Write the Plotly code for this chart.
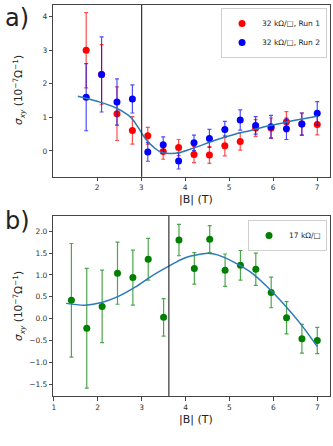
import plotly.graph_objects as go

W, H = 333, 446

# ---- panel a) : 32 kOhm/sq, two runs ----
B_A = [1.75, 2.1, 2.45, 2.8, 3.15, 3.5, 3.85, 4.2, 4.55, 4.9, 5.25, 5.6, 5.95, 6.3, 6.65, 7.0]
run1_sig = [3.0, 2.28, 1.11, 0.61, 0.45, -0.02, 0.10, -0.11, -0.12, 0.15, 0.28, 0.68, 0.68, 0.87, 0.80, 0.79]
run1_err = [1.12, 0.89, 0.80, 0.41, 0.25, 0.23, 0.24, 0.24, 0.25, 0.30, 0.26, 0.25, 0.30, 0.30, 0.33, 0.31]
run2_sig = [1.60, 2.28, 1.46, 1.55, -0.03, 0.18, -0.30, 0.24, 0.37, 0.64, 0.92, 0.76, 0.72, 0.66, 0.80, 1.12]
run2_err = [1.00, 1.12, 0.69, 0.42, 0.28, 0.24, 0.24, 0.23, 0.27, 0.24, 0.30, 0.26, 0.34, 0.32, 0.33, 0.35]
fitA_B = [1.56, 2.02, 2.43, 2.69, 2.81, 2.96, 3.11, 3.30, 3.45, 3.68, 3.90, 4.20, 4.73, 5.11, 5.49, 5.87, 6.24, 6.62, 7.0]
fitA_sig = [1.63, 1.47, 1.28, 1.08, 0.93, 0.64, 0.34, 0.09, -0.04, -0.08, -0.04, 0.09, 0.34, 0.49, 0.61, 0.74, 0.84, 0.94, 1.03]
vline_A = 3.01

# ---- panel b) : 17 kOhm/sq ----
B_B = [1.4, 1.75, 2.1, 2.45, 2.8, 3.15, 3.5, 3.85, 4.2, 4.55, 4.9, 5.25, 5.6, 5.95, 6.3, 6.65, 7.0]
sig_B = [0.42, -0.22, 0.28, 1.04, 0.94, 1.36, 0.03, 1.80, 1.15, 1.82, 1.11, 1.22, 1.13, 0.60, 0.02, -0.46, -0.50]
err_B = [1.30, 1.37, 0.83, 0.71, 0.63, 0.48, 0.43, 0.36, 0.36, 0.31, 0.37, 0.34, 0.37, 0.35, 0.37, 0.33, 0.30]
fitB_B = [1.28, 1.72, 2.09, 2.47, 2.85, 3.22, 3.60, 3.98, 4.36, 4.51, 4.73, 5.11, 5.49, 5.87, 6.24, 6.62, 7.0]
fitB_sig = [0.35, 0.31, 0.37, 0.51, 0.72, 0.97, 1.19, 1.39, 1.48, 1.50, 1.46, 1.29, 1.06, 0.72, 0.33, -0.12, -0.64]
vline_B = 3.62

RED = "#ff0000"
BLUE = "#0000ff"
GREEN = "#008000"
FIT = "#2a7ab8"
FONT = "DejaVu Sans"


def px_x(p):
    return p / W


def px_y(p):
    return 1 - p / H


def points(x, y, err, color, err_color, name, xa, ya, legend):
    return go.Scatter(
        x=x, y=y, mode="markers", name=name,
        marker=dict(color=color, size=7),
        error_y=dict(type="data", array=err, color=err_color, thickness=1.2, width=2),
        xaxis=xa, yaxis=ya, legend=legend,
    )


fig = go.Figure()
fig.add_trace(points(B_A, run1_sig, run1_err, RED, "rgba(255,0,0,0.7)",
                     "32 kΩ/□, Run 1", "x", "y", "legend"))
fig.add_trace(points(B_A, run2_sig, run2_err, BLUE, "rgba(0,0,255,0.7)",
                     "32 kΩ/□, Run 2", "x", "y", "legend"))
fig.add_trace(go.Scatter(x=fitA_B, y=fitA_sig, mode="lines", line=dict(color=FIT, width=1.5, shape="spline"),
                         showlegend=False, xaxis="x", yaxis="y"))

fig.add_trace(points(B_B, sig_B, err_B, GREEN, "rgba(0,128,0,0.7)",
                     "17 kΩ/□", "x2", "y2", "legend2"))
fig.add_trace(go.Scatter(x=fitB_B, y=fitB_sig, mode="lines", line=dict(color=FIT, width=1.5, shape="spline"),
                         showlegend=False, xaxis="x2", yaxis="y2"))

axis_style = dict(showgrid=False, zeroline=False, showline=True, mirror=True,
                  linecolor="#444", linewidth=1, ticks="outside", ticklen=3.5,
                  tickcolor="#444", tickfont=dict(size=7.5, color="#333", family=FONT))

fig.update_layout(
    width=W, height=H, autosize=False,
    margin=dict(l=0, r=0, t=0, b=0),
    paper_bgcolor="white", plot_bgcolor="white",
    font=dict(family=FONT, color="#222"),
    xaxis=dict(domain=[px_x(51.7), px_x(330)], range=[1.005, 7.29], tickvals=[2, 3, 4, 5, 6, 7],
               anchor="y", **axis_style),
    yaxis=dict(domain=[px_y(176.7), px_y(5)], range=[-0.77, 4.35], tickvals=[0, 1, 2, 3, 4],
               anchor="x", **axis_style),
    xaxis2=dict(domain=[px_x(51.7), px_x(330)], range=[0.99, 7.29], tickvals=[1, 2, 3, 4, 5, 6, 7],
                anchor="y2", **axis_style),
    yaxis2=dict(domain=[px_y(396), px_y(216)], range=[-1.77, 2.35],
                tickvals=[-1.5, -1.0, -0.5, 0.0, 0.5, 1.0, 1.5, 2.0], tickformat=".1f",
                anchor="x2", **axis_style),
    legend=dict(x=px_x(327), y=px_y(8), xanchor="right", yanchor="top",
                bgcolor="white", bordercolor="#d0d0d0", borderwidth=1,
                font=dict(size=7.5, family=FONT, color="#222"), itemwidth=30),
    legend2=dict(x=px_x(327), y=px_y(220), xanchor="right", yanchor="top",
                 bgcolor="white", bordercolor="#d0d0d0", borderwidth=1,
                 font=dict(size=7.5, family=FONT, color="#222"), itemwidth=30),
)

fig.add_shape(type="line", xref="x", yref="y domain", x0=vline_A, x1=vline_A, y0=0, y1=1,
              line=dict(color="#333", width=1.2))
fig.add_shape(type="line", xref="x2", yref="y2 domain", x0=vline_B, x1=vline_B, y0=0, y1=1,
              line=dict(color="#333", width=1.2))

ylab = "<i>σ</i><sub><i>xy</i></sub> (10<sup>−7</sup>Ω<sup>−1</sup>)"
notes = [
    dict(text="a)", x=px_x(1), y=px_y(2), xanchor="left", yanchor="top", font=dict(size=24)),
    dict(text="b)", x=px_x(1), y=px_y(205), xanchor="left", yanchor="top", font=dict(size=24)),
    dict(text="|B| (T)", x=px_x(195), y=px_y(199), xanchor="center", yanchor="middle", font=dict(size=11)),
    dict(text="|B| (T)", x=px_x(195), y=px_y(419), xanchor="center", yanchor="middle", font=dict(size=11)),
    dict(text=ylab, x=px_x(17), y=px_y(90), textangle=-90, xanchor="center", yanchor="middle",
         font=dict(size=10.5)),
    dict(text=ylab, x=px_x(17), y=px_y(306), textangle=-90, xanchor="center", yanchor="middle",
         font=dict(size=10.5)),
]
for n in notes:
    fig.add_annotation(xref="paper", yref="paper", showarrow=False, **n)

# page body has a default 8px margin; drop it so the figure sits at (0, 0)
fig.write_html("out.html", config={"displayModeBar": False},
               post_script="document.body.style.margin='0';")
